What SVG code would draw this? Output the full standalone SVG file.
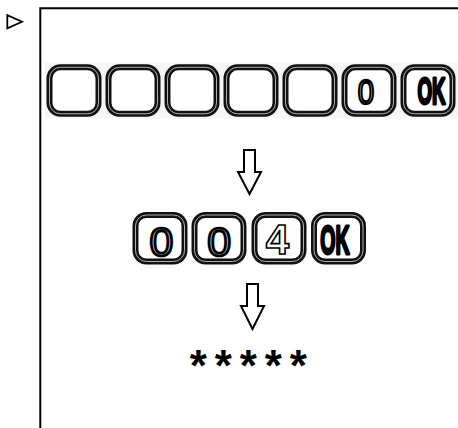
<svg xmlns="http://www.w3.org/2000/svg" xmlns:xlink="http://www.w3.org/1999/xlink" width="458" height="428" viewBox="0 0 458 428">
<style>
.frame{fill:none;stroke:#000;stroke-width:2}
.kb{fill:#fff;stroke:#111;stroke-width:6}
.kl{fill:none;stroke:#c4c4c4;stroke-width:0.9}
.ring{font-family:"Liberation Sans",Arial,sans-serif;font-weight:400;fill:#d0d0d0;stroke:#000;stroke-width:2.4}
.hollow{font-family:"Liberation Sans",Arial,sans-serif;font-weight:700;fill:#fff;stroke:#000;stroke-width:1.6}
.ok{font-family:"Liberation Sans",Arial,sans-serif;font-weight:700;fill:#000;stroke:#000;stroke-width:3;stroke-linejoin:round}
.star{font-family:"Liberation Sans",Arial,sans-serif;font-weight:700;font-size:44px;fill:#000}
.arrow{fill:#fff;stroke:#000;stroke-width:2;stroke-linejoin:miter}
</style>
<defs>
<g id="key">
<rect class="kb" x="3" y="3" width="49" height="46.5" rx="11"/>
<rect class="kl" x="3" y="3" width="49" height="46.5" rx="11"/>
</g>
</defs>
<rect x="0" y="0" width="458" height="428" fill="#fff"/>
<g id="frame">
<path class="frame" d="M40.3 428 V8.3 H458"/>
<polygon points="7.3,15.2 7.3,28.3 22,21.7" fill="none" stroke="#000" stroke-width="1.8"/>
</g>
<g id="row1">
<rect x="45" y="62.5" width="413" height="56" fill="#f6f6f6"/>
<g id="r1k1"><use xlink:href="#key" x="46.5" y="64.3"/></g>
<g id="r1k2"><use xlink:href="#key" x="105.5" y="64.3"/></g>
<g id="r1k3"><use xlink:href="#key" x="164.5" y="64.3"/></g>
<g id="r1k4"><use xlink:href="#key" x="223.5" y="64.3"/></g>
<g id="r1k5"><use xlink:href="#key" x="282.5" y="64.3"/></g>
<g id="r1k6"><use xlink:href="#key" x="341.5" y="64.3"/>
<text class="ring" font-size="36" text-anchor="middle" transform="translate(366,104) scale(0.82,1)">0</text></g>
<g id="r1k7"><use xlink:href="#key" x="400.5" y="64.3"/>
<text class="ok" font-size="36" text-anchor="middle" transform="translate(431.5,103.5) scale(0.52,1)">OK</text></g>
</g>
<g id="row2">
<g id="r2k1"><use xlink:href="#key" x="132.5" y="212"/>
<text class="ring" font-size="40" text-anchor="middle" style="stroke-width:2.6" transform="translate(161.3,255.5) scale(1.07,1)">0</text></g>
<g id="r2k2"><use xlink:href="#key" x="191.5" y="212"/>
<text class="ring" font-size="40" text-anchor="middle" style="stroke-width:2.6" transform="translate(219.2,255.5) scale(1.07,1)">0</text></g>
<g id="r2k3"><use xlink:href="#key" x="251.5" y="212"/>
<text class="hollow" font-size="42" text-anchor="middle" x="277.5" y="254">4</text></g>
<g id="r2k4"><use xlink:href="#key" x="311" y="212"/>
<text class="ok" font-size="40" text-anchor="middle" transform="translate(335,254) scale(0.49,1)">OK</text></g>
</g>
<g id="connectors">
<polygon class="arrow" points="244,150 255,150 255,172 261,172 249.5,194 238,172 244,172"/>
<polygon class="arrow" points="247,284 258,284 258,306 264,306 252.5,329 241,306 247,306"/>
</g>
<g id="password">
<text class="star" text-anchor="middle" x="198.3" y="381">*</text>
<text class="star" text-anchor="middle" x="223.3" y="381">*</text>
<text class="star" text-anchor="middle" x="248.3" y="381">*</text>
<text class="star" text-anchor="middle" x="273.3" y="381">*</text>
<text class="star" text-anchor="middle" x="298.3" y="381">*</text>
</g>
</svg>
